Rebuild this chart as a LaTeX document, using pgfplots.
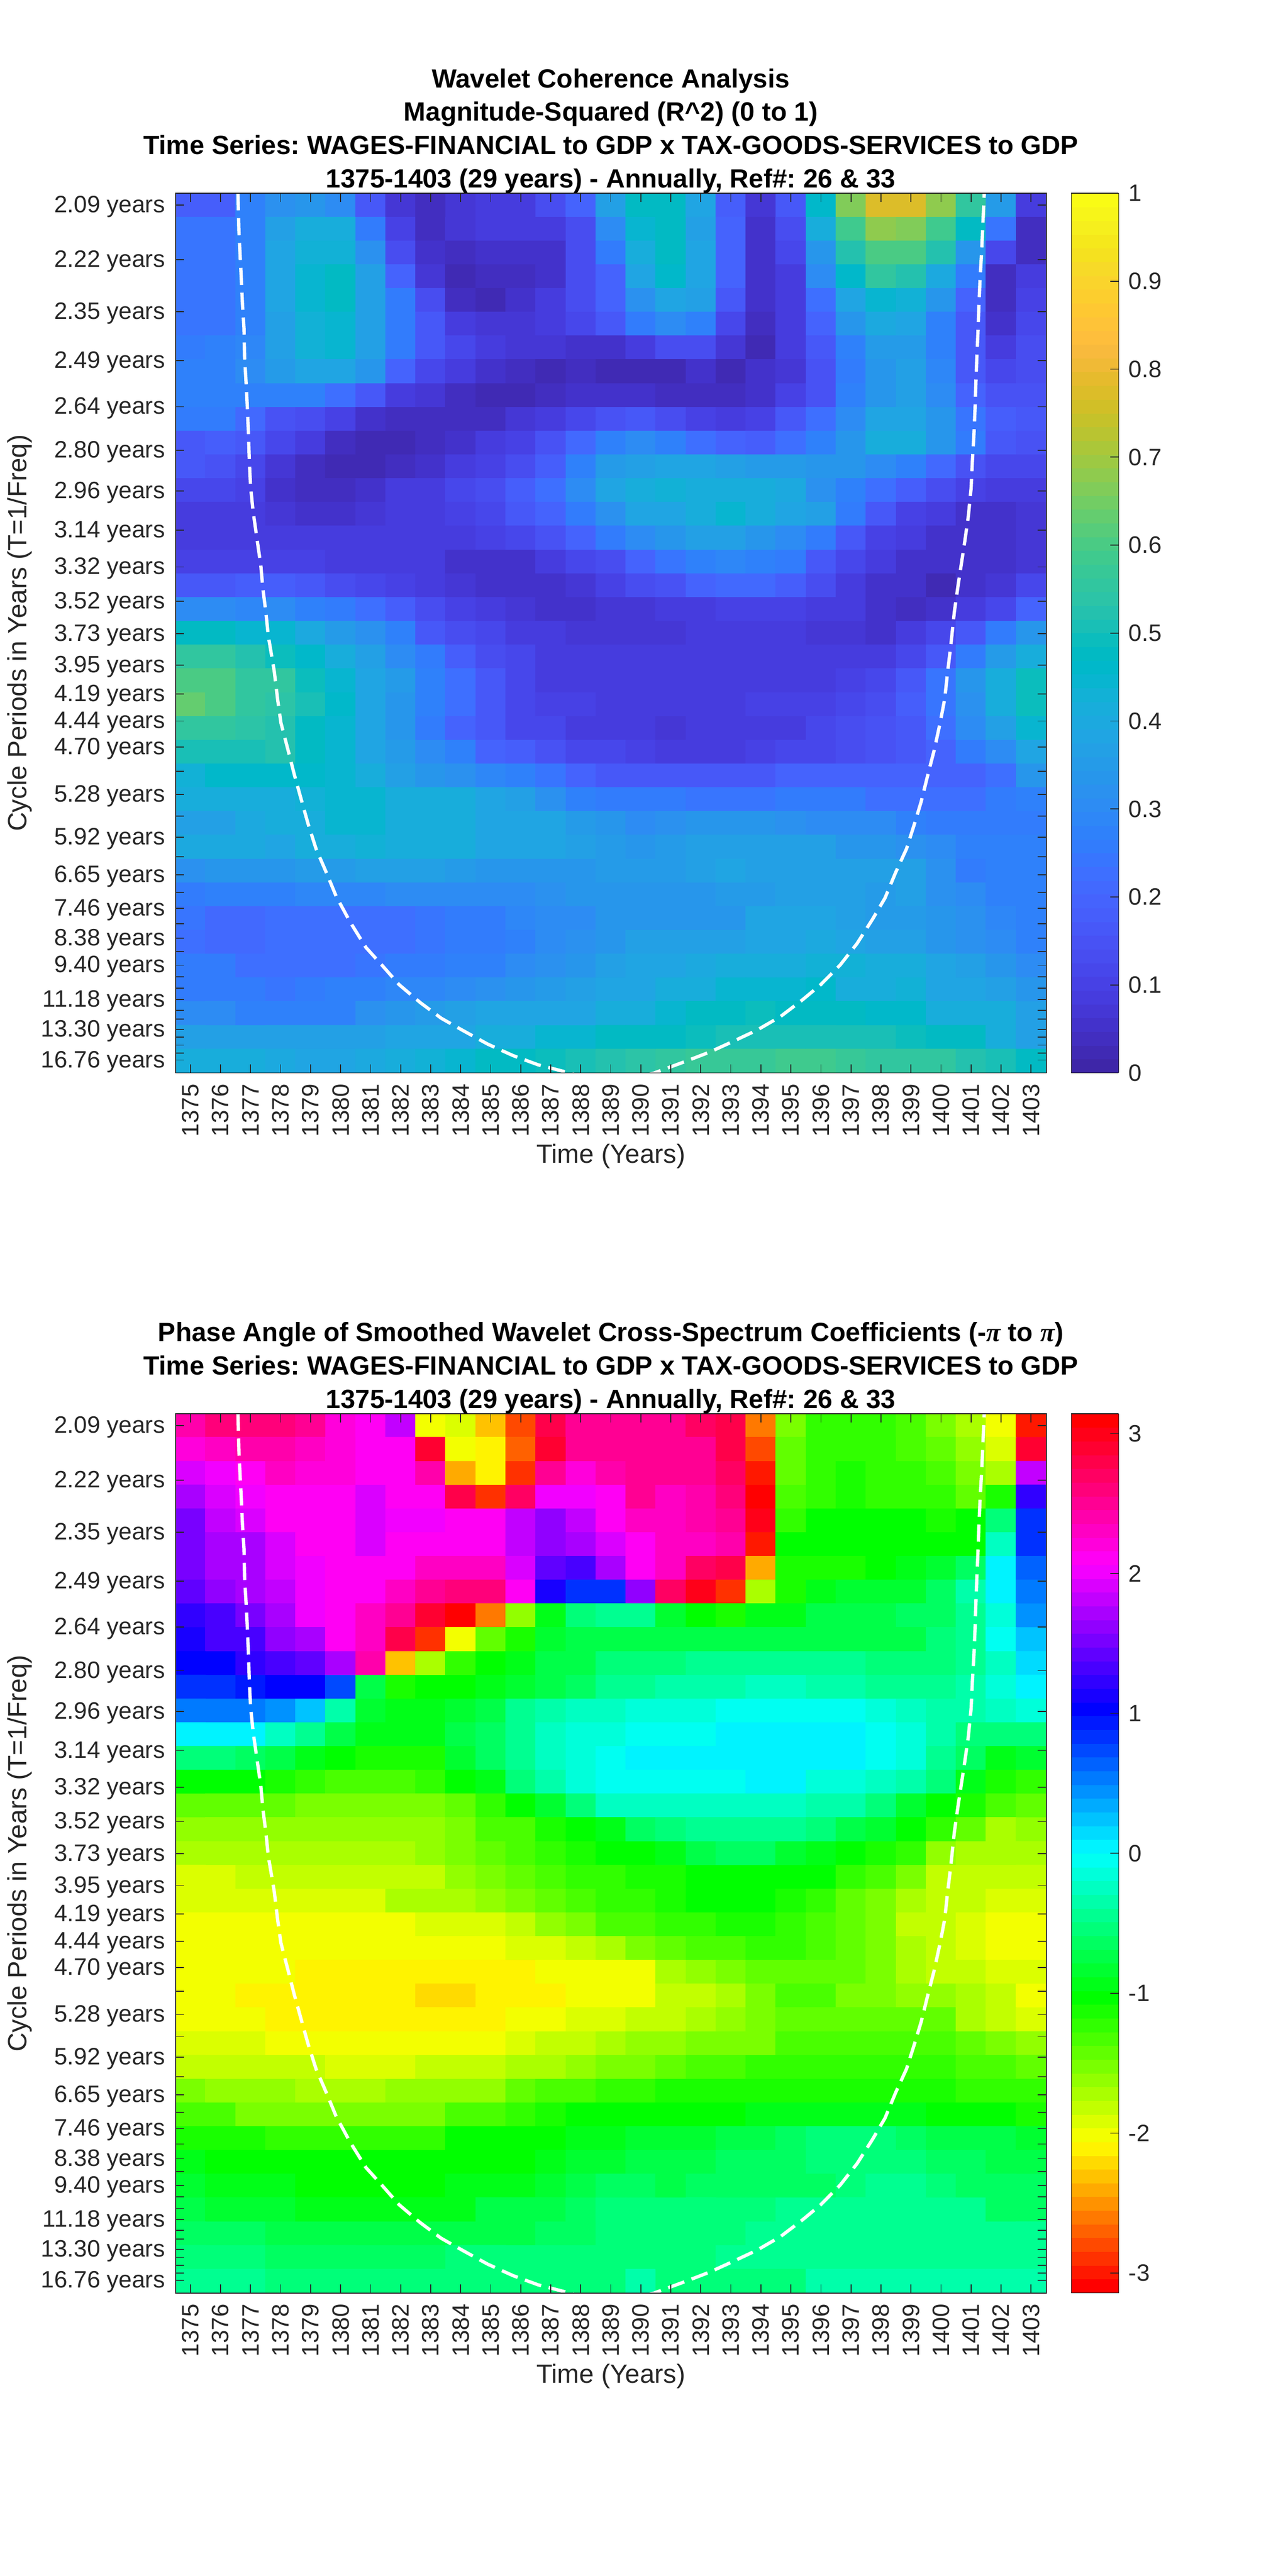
\documentclass[border=0pt]{standalone}
\usepackage{pgfplots}
\usepackage{pgfplotstable}
\usepackage{fontspec}
\pgfplotsset{compat=1.18}
\setmainfont{Liberation Sans}
\newfontfamily\piserif{Liberation Serif}
\frenchspacing
\definecolor{tg}{RGB}{38,38,38}
\pgfplotsset{
colormap={parula}{
rgb=(.2422,.1504,.6603) rgb=(.2504,.1650,.7076) rgb=(.2578,.1818,.7511) rgb=(.2647,.1978,.7952)
rgb=(.2706,.2147,.8364) rgb=(.2751,.2342,.8710) rgb=(.2783,.2559,.8991) rgb=(.2803,.2782,.9221)
rgb=(.2813,.3006,.9414) rgb=(.2810,.3228,.9579) rgb=(.2795,.3447,.9717) rgb=(.2760,.3667,.9829)
rgb=(.2699,.3892,.9906) rgb=(.2602,.4123,.9952) rgb=(.2440,.4358,.9988) rgb=(.2206,.4603,.9973)
rgb=(.1963,.4847,.9892) rgb=(.1834,.5074,.9798) rgb=(.1786,.5289,.9682) rgb=(.1764,.5499,.9520)
rgb=(.1687,.5703,.9359) rgb=(.1540,.5902,.9218) rgb=(.1460,.6091,.9079) rgb=(.1380,.6276,.8973)
rgb=(.1248,.6459,.8883) rgb=(.1113,.6635,.8763) rgb=(.0952,.6798,.8598) rgb=(.0689,.6948,.8394)
rgb=(.0297,.7082,.8163) rgb=(.0036,.7203,.7917) rgb=(.0067,.7312,.7660) rgb=(.0433,.7411,.7394)
rgb=(.0964,.7500,.7120) rgb=(.1408,.7584,.6842) rgb=(.1717,.7670,.6554) rgb=(.1938,.7758,.6251)
rgb=(.2161,.7843,.5923) rgb=(.2470,.7918,.5567) rgb=(.2906,.7973,.5188) rgb=(.3406,.8008,.4789)
rgb=(.3909,.8029,.4354) rgb=(.4456,.8024,.3909) rgb=(.5044,.7993,.3480) rgb=(.5616,.7942,.3045)
rgb=(.6174,.7876,.2612) rgb=(.6720,.7793,.2227) rgb=(.7242,.7698,.1910) rgb=(.7738,.7598,.1646)
rgb=(.8203,.7498,.1535) rgb=(.8634,.7406,.1596) rgb=(.9035,.7330,.1774) rgb=(.9393,.7288,.2100)
rgb=(.9728,.7298,.2394) rgb=(.9956,.7434,.2371) rgb=(.9970,.7659,.2199) rgb=(.9952,.7861,.1967)
rgb=(.9892,.8086,.1816) rgb=(.9786,.8318,.1717) rgb=(.9676,.8565,.1555) rgb=(.9610,.8820,.1209)
rgb=(.9597,.9106,.1067) rgb=(.9628,.9373,.1124) rgb=(.9691,.9606,.1000) rgb=(.9769,.9839,.0805)},
colormap={hsvbase}{rgb255=(255,0,0) rgb255=(255,255,0) rgb255=(0,255,0) rgb255=(0,255,255) rgb255=(0,0,255) rgb255=(255,0,255) rgb255=(255,0,0)},
colormap={hsvsix}{samples of colormap=(64 of hsvbase)},
}
\pgfplotstableread[row sep=\\,header=false]{
0.18\\0.18\\0.27\\0.32\\0.33\\0.30\\0.17\\0.07\\0.04\\0.07\\0.09\\0.09\\0.14\\0.20\\0.37\\0.47\\0.48\\0.38\\0.18\\0.07\\0.16\\0.46\\0.66\\0.78\\0.78\\0.68\\0.55\\0.35\\0.09\\
0.24\\0.24\\0.28\\0.36\\0.42\\0.42\\0.25\\0.10\\0.04\\0.07\\0.09\\0.08\\0.08\\0.13\\0.30\\0.44\\0.47\\0.37\\0.19\\0.06\\0.13\\0.41\\0.58\\0.68\\0.67\\0.58\\0.47\\0.24\\0.04\\
0.24\\0.24\\0.28\\0.38\\0.43\\0.43\\0.32\\0.14\\0.05\\0.04\\0.05\\0.05\\0.05\\0.13\\0.26\\0.42\\0.47\\0.38\\0.19\\0.05\\0.12\\0.33\\0.52\\0.60\\0.60\\0.52\\0.34\\0.11\\0.04\\
0.24\\0.24\\0.28\\0.38\\0.45\\0.47\\0.37\\0.20\\0.07\\0.03\\0.04\\0.04\\0.06\\0.13\\0.20\\0.38\\0.46\\0.39\\0.20\\0.05\\0.09\\0.30\\0.46\\0.55\\0.53\\0.40\\0.25\\0.04\\0.09\\
0.24\\0.24\\0.28\\0.38\\0.45\\0.47\\0.37\\0.26\\0.13\\0.04\\0.03\\0.05\\0.08\\0.13\\0.20\\0.32\\0.38\\0.37\\0.17\\0.05\\0.08\\0.23\\0.38\\0.45\\0.43\\0.33\\0.19\\0.04\\0.10\\
0.24\\0.24\\0.28\\0.36\\0.43\\0.45\\0.37\\0.26\\0.17\\0.09\\0.07\\0.07\\0.09\\0.12\\0.16\\0.25\\0.30\\0.27\\0.12\\0.04\\0.08\\0.19\\0.34\\0.40\\0.38\\0.27\\0.17\\0.06\\0.12\\
0.26\\0.27\\0.29\\0.37\\0.43\\0.44\\0.36\\0.25\\0.17\\0.12\\0.08\\0.07\\0.07\\0.06\\0.06\\0.09\\0.13\\0.13\\0.07\\0.03\\0.08\\0.17\\0.28\\0.35\\0.35\\0.27\\0.16\\0.08\\0.14\\
0.27\\0.27\\0.30\\0.35\\0.39\\0.39\\0.33\\0.19\\0.12\\0.09\\0.05\\0.04\\0.03\\0.04\\0.03\\0.03\\0.03\\0.05\\0.03\\0.05\\0.07\\0.15\\0.26\\0.33\\0.36\\0.29\\0.16\\0.11\\0.14\\
0.27\\0.27\\0.28\\0.28\\0.28\\0.22\\0.17\\0.09\\0.07\\0.04\\0.03\\0.03\\0.04\\0.06\\0.05\\0.05\\0.04\\0.04\\0.04\\0.05\\0.10\\0.15\\0.27\\0.34\\0.36\\0.30\\0.19\\0.15\\0.15\\
0.26\\0.25\\0.21\\0.15\\0.13\\0.10\\0.06\\0.04\\0.04\\0.04\\0.04\\0.07\\0.09\\0.12\\0.15\\0.17\\0.13\\0.10\\0.09\\0.10\\0.16\\0.22\\0.30\\0.38\\0.39\\0.33\\0.24\\0.18\\0.17\\
0.16\\0.18\\0.17\\0.12\\0.08\\0.04\\0.03\\0.03\\0.04\\0.06\\0.08\\0.10\\0.15\\0.21\\0.28\\0.30\\0.27\\0.23\\0.20\\0.18\\0.23\\0.28\\0.34\\0.41\\0.42\\0.33\\0.26\\0.16\\0.15\\
0.17\\0.15\\0.12\\0.07\\0.04\\0.03\\0.03\\0.04\\0.05\\0.08\\0.10\\0.13\\0.18\\0.28\\0.35\\0.37\\0.39\\0.39\\0.36\\0.35\\0.35\\0.34\\0.33\\0.30\\0.27\\0.21\\0.15\\0.12\\0.11\\
0.11\\0.11\\0.10\\0.05\\0.04\\0.04\\0.05\\0.08\\0.09\\0.11\\0.14\\0.18\\0.22\\0.30\\0.38\\0.41\\0.43\\0.42\\0.42\\0.41\\0.40\\0.32\\0.27\\0.22\\0.18\\0.14\\0.10\\0.09\\0.09\\
0.09\\0.09\\0.08\\0.07\\0.05\\0.06\\0.07\\0.08\\0.09\\0.10\\0.12\\0.17\\0.20\\0.25\\0.32\\0.38\\0.38\\0.42\\0.44\\0.41\\0.38\\0.36\\0.25\\0.17\\0.10\\0.08\\0.06\\0.05\\0.07\\
0.08\\0.08\\0.08\\0.08\\0.08\\0.09\\0.09\\0.08\\0.09\\0.09\\0.10\\0.12\\0.15\\0.19\\0.25\\0.31\\0.33\\0.36\\0.36\\0.33\\0.30\\0.26\\0.17\\0.10\\0.08\\0.05\\0.05\\0.05\\0.07\\
0.10\\0.10\\0.10\\0.10\\0.10\\0.08\\0.08\\0.08\\0.08\\0.06\\0.06\\0.06\\0.09\\0.11\\0.14\\0.19\\0.24\\0.28\\0.29\\0.28\\0.26\\0.17\\0.11\\0.08\\0.05\\0.05\\0.06\\0.06\\0.07\\
0.16\\0.16\\0.18\\0.18\\0.17\\0.13\\0.12\\0.10\\0.08\\0.07\\0.05\\0.05\\0.05\\0.07\\0.10\\0.13\\0.15\\0.19\\0.21\\0.21\\0.18\\0.13\\0.09\\0.06\\0.05\\0.03\\0.06\\0.07\\0.12\\
0.30\\0.30\\0.29\\0.30\\0.28\\0.25\\0.22\\0.18\\0.13\\0.10\\0.08\\0.07\\0.06\\0.06\\0.07\\0.07\\0.08\\0.09\\0.10\\0.10\\0.10\\0.08\\0.08\\0.06\\0.04\\0.06\\0.09\\0.12\\0.19\\
0.48\\0.47\\0.45\\0.45\\0.40\\0.35\\0.32\\0.27\\0.17\\0.13\\0.11\\0.08\\0.08\\0.07\\0.07\\0.07\\0.07\\0.08\\0.08\\0.09\\0.09\\0.07\\0.07\\0.06\\0.09\\0.12\\0.17\\0.25\\0.33\\
0.55\\0.55\\0.53\\0.49\\0.46\\0.42\\0.36\\0.31\\0.25\\0.18\\0.14\\0.11\\0.08\\0.08\\0.08\\0.09\\0.08\\0.08\\0.08\\0.08\\0.08\\0.08\\0.08\\0.08\\0.11\\0.17\\0.26\\0.35\\0.42\\
0.60\\0.60\\0.56\\0.56\\0.49\\0.45\\0.38\\0.35\\0.28\\0.22\\0.16\\0.11\\0.09\\0.09\\0.08\\0.08\\0.08\\0.08\\0.08\\0.08\\0.09\\0.09\\0.10\\0.12\\0.17\\0.24\\0.33\\0.42\\0.49\\
0.64\\0.60\\0.56\\0.54\\0.50\\0.46\\0.38\\0.33\\0.27\\0.22\\0.17\\0.11\\0.10\\0.10\\0.08\\0.08\\0.08\\0.08\\0.08\\0.10\\0.10\\0.10\\0.12\\0.14\\0.18\\0.24\\0.32\\0.41\\0.49\\
0.55\\0.55\\0.54\\0.53\\0.48\\0.45\\0.38\\0.33\\0.25\\0.20\\0.16\\0.12\\0.11\\0.08\\0.08\\0.08\\0.07\\0.08\\0.08\\0.09\\0.09\\0.12\\0.13\\0.15\\0.17\\0.22\\0.31\\0.36\\0.45\\
0.50\\0.51\\0.50\\0.52\\0.48\\0.45\\0.39\\0.35\\0.30\\0.27\\0.20\\0.18\\0.15\\0.12\\0.12\\0.10\\0.09\\0.09\\0.09\\0.10\\0.12\\0.12\\0.13\\0.15\\0.16\\0.20\\0.25\\0.30\\0.38\\
0.43\\0.46\\0.46\\0.46\\0.46\\0.44\\0.41\\0.37\\0.33\\0.32\\0.29\\0.27\\0.24\\0.20\\0.17\\0.16\\0.17\\0.17\\0.17\\0.17\\0.19\\0.19\\0.19\\0.19\\0.20\\0.20\\0.20\\0.23\\0.33\\
0.41\\0.42\\0.42\\0.42\\0.43\\0.44\\0.44\\0.42\\0.42\\0.41\\0.38\\0.36\\0.32\\0.28\\0.26\\0.25\\0.25\\0.24\\0.24\\0.24\\0.25\\0.25\\0.25\\0.23\\0.23\\0.23\\0.23\\0.25\\0.27\\
0.37\\0.36\\0.40\\0.41\\0.41\\0.44\\0.44\\0.42\\0.42\\0.41\\0.39\\0.38\\0.38\\0.35\\0.33\\0.30\\0.32\\0.33\\0.33\\0.33\\0.32\\0.30\\0.30\\0.30\\0.27\\0.26\\0.25\\0.25\\0.26\\
0.40\\0.40\\0.40\\0.39\\0.41\\0.42\\0.43\\0.42\\0.41\\0.41\\0.39\\0.38\\0.38\\0.36\\0.35\\0.33\\0.35\\0.37\\0.37\\0.37\\0.37\\0.37\\0.34\\0.33\\0.32\\0.30\\0.27\\0.27\\0.27\\
0.32\\0.33\\0.33\\0.34\\0.35\\0.35\\0.36\\0.36\\0.36\\0.35\\0.33\\0.33\\0.34\\0.34\\0.35\\0.35\\0.35\\0.37\\0.38\\0.37\\0.37\\0.37\\0.37\\0.36\\0.36\\0.32\\0.26\\0.27\\0.27\\
0.26\\0.27\\0.27\\0.28\\0.29\\0.29\\0.29\\0.30\\0.30\\0.30\\0.30\\0.30\\0.32\\0.33\\0.34\\0.34\\0.33\\0.33\\0.35\\0.35\\0.36\\0.36\\0.36\\0.35\\0.36\\0.32\\0.31\\0.28\\0.27\\
0.24\\0.21\\0.21\\0.22\\0.22\\0.23\\0.23\\0.23\\0.24\\0.25\\0.25\\0.29\\0.30\\0.31\\0.33\\0.34\\0.34\\0.34\\0.34\\0.38\\0.38\\0.38\\0.37\\0.35\\0.35\\0.33\\0.32\\0.29\\0.27\\
0.22\\0.21\\0.21\\0.22\\0.22\\0.23\\0.23\\0.23\\0.24\\0.25\\0.26\\0.28\\0.30\\0.32\\0.34\\0.36\\0.36\\0.37\\0.37\\0.39\\0.39\\0.40\\0.39\\0.37\\0.37\\0.33\\0.32\\0.30\\0.27\\
0.25\\0.25\\0.22\\0.22\\0.22\\0.22\\0.24\\0.25\\0.26\\0.28\\0.27\\0.30\\0.32\\0.34\\0.36\\0.38\\0.38\\0.40\\0.42\\0.42\\0.42\\0.43\\0.43\\0.42\\0.41\\0.39\\0.37\\0.33\\0.30\\
0.26\\0.26\\0.25\\0.24\\0.25\\0.27\\0.27\\0.29\\0.29\\0.31\\0.32\\0.33\\0.35\\0.36\\0.38\\0.39\\0.41\\0.41\\0.44\\0.44\\0.44\\0.46\\0.42\\0.42\\0.43\\0.39\\0.39\\0.36\\0.33\\
0.30\\0.30\\0.28\\0.28\\0.28\\0.28\\0.32\\0.33\\0.35\\0.36\\0.38\\0.38\\0.38\\0.39\\0.41\\0.42\\0.44\\0.47\\0.47\\0.49\\0.47\\0.47\\0.48\\0.46\\0.46\\0.42\\0.42\\0.41\\0.36\\
0.36\\0.36\\0.36\\0.36\\0.37\\0.37\\0.37\\0.38\\0.38\\0.38\\0.41\\0.42\\0.44\\0.45\\0.47\\0.48\\0.48\\0.49\\0.50\\0.50\\0.51\\0.51\\0.51\\0.51\\0.49\\0.48\\0.47\\0.42\\0.37\\
0.41\\0.41\\0.41\\0.40\\0.39\\0.39\\0.40\\0.42\\0.43\\0.45\\0.47\\0.48\\0.49\\0.50\\0.52\\0.54\\0.56\\0.57\\0.57\\0.57\\0.58\\0.58\\0.57\\0.56\\0.55\\0.55\\0.53\\0.50\\0.47\\
}\tabA
\pgfplotstableread[row sep=\\,header=false]{
2.4\\2.6\\2.6\\2.6\\2.55\\2.25\\2.1\\1.85\\-2.03\\-1.87\\-2.3\\-2.8\\2.75\\2.5\\2.5\\2.55\\2.55\\2.65\\2.75\\-2.6\\-1.55\\-1.25\\-1.25\\-1.25\\-1.3\\-1.55\\-1.7\\-1.97\\-2.95\\
2.2\\2.3\\2.4\\2.4\\2.3\\2.2\\2.1\\2.1\\2.85\\-2.01\\-2.13\\-2.7\\2.85\\2.55\\2.5\\2.5\\2.5\\2.55\\2.8\\-2.75\\-1.45\\-1.25\\-1.25\\-1.25\\-1.3\\-1.45\\-1.65\\-1.95\\2.85\\
1.9\\2.05\\2.1\\2.35\\2.2\\2.2\\2.15\\2.15\\2.4\\-2.4\\-2.12\\-2.85\\2.55\\2.25\\2.45\\2.5\\2.55\\2.55\\2.7\\-3.0\\-1.45\\-1.25\\-1.15\\-1.25\\-1.25\\-1.35\\-1.5\\-1.75\\1.85\\
1.75\\1.9\\2.05\\2.1\\2.1\\2.1\\1.95\\2.1\\2.1\\2.8\\-2.85\\2.65\\2.0\\2.05\\2.1\\2.5\\2.35\\2.4\\2.6\\3.14\\-1.35\\-1.2\\-1.1\\-1.2\\-1.2\\-1.25\\-1.4\\-1.15\\1.2\\
1.55\\1.8\\1.9\\2.1\\2.1\\2.1\\1.95\\2.0\\2.0\\2.1\\2.1\\1.85\\1.6\\1.8\\2.1\\2.35\\2.35\\2.45\\2.5\\3.0\\-1.25\\-1.05\\-1.05\\-1.05\\-1.05\\-1.15\\-1.05\\-0.55\\0.85\\
1.5\\1.7\\1.75\\1.95\\2.1\\2.1\\1.9\\2.1\\2.1\\2.15\\2.15\\1.85\\1.6\\1.7\\1.95\\2.1\\2.3\\2.35\\2.45\\-3.0\\-1.05\\-1.05\\-1.05\\-1.05\\-1.05\\-1.05\\-1.0\\-0.25\\0.8\\
1.5\\1.75\\1.75\\1.95\\2.0\\2.15\\2.15\\2.15\\2.3\\2.35\\2.35\\1.9\\1.45\\1.35\\1.75\\2.1\\2.35\\2.65\\2.8\\-2.45\\-1.15\\-1.1\\-1.1\\-1.0\\-0.95\\-0.8\\-0.6\\0\\0.6\\
1.4\\1.6\\1.7\\1.85\\2.0\\2.1\\2.15\\2.3\\2.5\\2.6\\2.6\\2.15\\1.15\\0.8\\0.8\\1.65\\2.7\\2.95\\-2.85\\-1.75\\-1.1\\-0.95\\-0.8\\-0.8\\-0.85\\-0.65\\-0.3\\0\\0.5\\
1.2\\1.35\\1.55\\1.75\\2.0\\2.1\\2.35\\2.5\\2.85\\3.14\\-2.6\\-1.6\\-0.95\\-0.55\\-0.45\\-0.45\\-0.85\\-1.0\\-1.1\\-0.95\\-0.9\\-0.75\\-0.75\\-0.75\\-0.65\\-0.6\\-0.4\\-0.1\\0.4\\
1.1\\1.3\\1.35\\1.6\\1.75\\2.1\\2.35\\2.8\\-2.85\\-2.03\\-1.4\\-1.15\\-0.85\\-0.7\\-0.75\\-0.7\\-0.7\\-0.7\\-0.7\\-0.7\\-0.7\\-0.7\\-0.7\\-0.7\\-0.7\\-0.55\\-0.45\\-0.05\\0.25\\
1.0\\1.0\\1.2\\1.3\\1.45\\1.7\\2.4\\-2.3\\-1.75\\-1.25\\-1.05\\-0.95\\-0.75\\-0.7\\-0.55\\-0.55\\-0.55\\-0.45\\-0.45\\-0.45\\-0.45\\-0.45\\-0.45\\-0.5\\-0.5\\-0.5\\-0.4\\-0.2\\0.12\\
0.8\\0.85\\0.95\\1.05\\1.05\\0.75\\-0.75\\-1.15\\-1.05\\-1.05\\-0.9\\-0.8\\-0.7\\-0.6\\-0.45\\-0.45\\-0.3\\-0.3\\-0.3\\-0.2\\-0.2\\-0.35\\-0.35\\-0.4\\-0.4\\-0.4\\-0.35\\-0.15\\0\\
0.55\\0.55\\0.55\\0.45\\0.2\\-0.3\\-0.8\\-0.95\\-0.95\\-0.8\\-0.7\\-0.4\\-0.3\\-0.2\\-0.25\\-0.15\\-0.15\\-0.15\\-0.05\\-0.05\\-0.05\\-0.05\\-0.05\\-0.1\\-0.25\\-0.35\\-0.35\\-0.25\\-0.15\\
0\\0\\0\\-0.2\\-0.45\\-0.75\\-0.95\\-0.95\\-0.9\\-0.75\\-0.65\\-0.4\\-0.25\\-0.15\\-0.15\\-0.05\\-0.05\\-0.05\\0\\0\\0\\0\\0\\-0.05\\-0.15\\-0.3\\-0.5\\-0.5\\-0.5\\
-0.55\\-0.55\\-0.65\\-0.7\\-0.9\\-1.05\\-1.1\\-1.1\\-1.1\\-0.8\\-0.6\\-0.4\\-0.25\\-0.15\\-0.05\\0\\0\\0\\0\\0\\0\\0\\0\\-0.05\\-0.15\\-0.4\\-0.65\\-0.9\\-0.85\\
-1.05\\-1.05\\-1.05\\-1.15\\-1.25\\-1.3\\-1.3\\-1.3\\-1.2\\-1.05\\-0.95\\-0.55\\-0.3\\-0.15\\-0.05\\-0.02\\-0.05\\-0.05\\-0.05\\0\\0\\-0.1\\-0.1\\-0.25\\-0.35\\-0.55\\-0.95\\-1.1\\-1.2\\
-1.45\\-1.45\\-1.45\\-1.45\\-1.55\\-1.55\\-1.55\\-1.55\\-1.55\\-1.4\\-1.2\\-1.05\\-0.85\\-0.55\\-0.25\\-0.2\\-0.25\\-0.2\\-0.2\\-0.2\\-0.2\\-0.3\\-0.3\\-0.5\\-0.85\\-1.05\\-1.15\\-1.3\\-1.45\\
-1.65\\-1.65\\-1.65\\-1.65\\-1.65\\-1.65\\-1.65\\-1.65\\-1.6\\-1.5\\-1.35\\-1.3\\-1.15\\-1.05\\-0.9\\-0.65\\-0.55\\-0.4\\-0.4\\-0.4\\-0.4\\-0.5\\-0.7\\-0.8\\-1.05\\-1.2\\-1.4\\-1.7\\-1.65\\
-1.75\\-1.75\\-1.75\\-1.75\\-1.75\\-1.75\\-1.75\\-1.75\\-1.6\\-1.55\\-1.45\\-1.3\\-1.2\\-1.15\\-1.05\\-1.05\\-0.95\\-0.75\\-0.6\\-0.6\\-0.8\\-0.95\\-1.0\\-1.1\\-1.25\\-1.6\\-1.7\\-1.75\\-1.75\\
-1.9\\-1.9\\-1.8\\-1.8\\-1.8\\-1.8\\-1.8\\-1.8\\-1.8\\-1.6\\-1.55\\-1.45\\-1.35\\-1.25\\-1.2\\-1.15\\-1.1\\-1.0\\-1.0\\-1.0\\-1.0\\-1.0\\-1.2\\-1.3\\-1.55\\-1.8\\-1.85\\-1.85\\-1.85\\
-1.9\\-1.9\\-1.9\\-1.9\\-1.9\\-1.9\\-1.9\\-1.75\\-1.75\\-1.75\\-1.6\\-1.55\\-1.45\\-1.35\\-1.25\\-1.25\\-1.1\\-1.05\\-1.05\\-1.05\\-1.1\\-1.2\\-1.4\\-1.55\\-1.7\\-1.8\\-1.85\\-1.93\\-1.93\\
-1.97\\-1.97\\-1.97\\-1.97\\-1.97\\-1.97\\-1.97\\-1.97\\-1.9\\-1.9\\-1.9\\-1.8\\-1.65\\-1.5\\-1.35\\-1.3\\-1.25\\-1.25\\-1.15\\-1.15\\-1.2\\-1.3\\-1.4\\-1.55\\-1.8\\-1.85\\-1.9\\-1.97\\-1.97\\
-2.01\\-2.01\\-2.01\\-2.01\\-2.01\\-2.01\\-2.01\\-2.01\\-2.01\\-2.01\\-2.01\\-1.93\\-1.93\\-1.8\\-1.75\\-1.5\\-1.45\\-1.35\\-1.3\\-1.2\\-1.2\\-1.3\\-1.45\\-1.55\\-1.75\\-1.85\\-1.9\\-1.97\\-1.97\\
-2.01\\-2.01\\-2.01\\-2.01\\-2.12\\-2.12\\-2.12\\-2.12\\-2.12\\-2.12\\-2.12\\-2.12\\-2.01\\-2.01\\-1.97\\-1.97\\-1.7\\-1.6\\-1.5\\-1.4\\-1.4\\-1.4\\-1.45\\-1.55\\-1.7\\-1.8\\-1.85\\-1.93\\-1.93\\
-2.01\\-2.01\\-2.12\\-2.12\\-2.12\\-2.12\\-2.12\\-2.12\\-2.22\\-2.22\\-2.12\\-2.12\\-2.12\\-2.01\\-1.97\\-1.97\\-1.85\\-1.8\\-1.7\\-1.55\\-1.35\\-1.35\\-1.5\\-1.5\\-1.6\\-1.65\\-1.7\\-1.85\\-1.97\\
-2.01\\-2.01\\-2.01\\-2.12\\-2.12\\-2.12\\-2.12\\-2.12\\-2.12\\-2.12\\-2.12\\-2.03\\-2.01\\-1.93\\-1.9\\-1.85\\-1.8\\-1.75\\-1.6\\-1.5\\-1.4\\-1.4\\-1.4\\-1.4\\-1.45\\-1.45\\-1.7\\-1.8\\-1.93\\
-1.93\\-1.93\\-1.93\\-2.03\\-2.03\\-2.03\\-2.03\\-2.03\\-2.03\\-2.03\\-1.97\\-1.93\\-1.85\\-1.8\\-1.7\\-1.65\\-1.6\\-1.55\\-1.5\\-1.5\\-1.35\\-1.3\\-1.3\\-1.3\\-1.35\\-1.35\\-1.4\\-1.55\\-1.65\\
-1.8\\-1.85\\-1.85\\-1.85\\-1.85\\-1.93\\-1.93\\-1.93\\-1.85\\-1.85\\-1.85\\-1.75\\-1.75\\-1.65\\-1.55\\-1.5\\-1.4\\-1.35\\-1.35\\-1.25\\-1.2\\-1.2\\-1.2\\-1.2\\-1.25\\-1.2\\-1.3\\-1.35\\-1.45\\
-1.5\\-1.65\\-1.65\\-1.65\\-1.75\\-1.75\\-1.75\\-1.65\\-1.65\\-1.65\\-1.65\\-1.45\\-1.35\\-1.3\\-1.25\\-1.2\\-1.15\\-1.1\\-1.1\\-1.1\\-1.1\\-1.1\\-1.1\\-1.1\\-1.15\\-1.15\\-1.2\\-1.2\\-1.25\\
-1.3\\-1.35\\-1.5\\-1.5\\-1.5\\-1.5\\-1.5\\-1.5\\-1.5\\-1.35\\-1.3\\-1.2\\-1.1\\-1.05\\-1.05\\-1.05\\-1.05\\-1.05\\-1.05\\-0.95\\-0.9\\-0.9\\-0.9\\-0.9\\-0.95\\-1.0\\-1.0\\-1.05\\-1.1\\
-1.1\\-1.1\\-1.1\\-1.2\\-1.2\\-1.2\\-1.2\\-1.2\\-1.2\\-1.05\\-1.05\\-1.05\\-1.05\\-0.95\\-0.9\\-0.85\\-0.85\\-0.8\\-0.7\\-0.7\\-0.6\\-0.55\\-0.55\\-0.55\\-0.65\\-0.7\\-0.7\\-0.75\\-0.8\\
-0.95\\-1.0\\-1.0\\-1.05\\-1.05\\-1.05\\-1.05\\-1.05\\-1.05\\-1.0\\-1.0\\-1.0\\-0.95\\-0.85\\-0.8\\-0.7\\-0.75\\-0.75\\-0.6\\-0.6\\-0.6\\-0.55\\-0.55\\-0.55\\-0.55\\-0.6\\-0.6\\-0.7\\-0.7\\
-0.85\\-0.95\\-0.95\\-0.95\\-1.02\\-1.02\\-1.02\\-1.02\\-1.02\\-0.9\\-0.9\\-0.9\\-0.8\\-0.75\\-0.6\\-0.6\\-0.7\\-0.6\\-0.6\\-0.6\\-0.6\\-0.6\\-0.5\\-0.45\\-0.45\\-0.55\\-0.6\\-0.6\\-0.65\\
-0.7\\-0.8\\-0.8\\-0.8\\-0.9\\-0.9\\-0.9\\-0.9\\-0.9\\-0.9\\-0.7\\-0.7\\-0.7\\-0.6\\-0.55\\-0.55\\-0.5\\-0.5\\-0.5\\-0.5\\-0.4\\-0.4\\-0.4\\-0.4\\-0.4\\-0.4\\-0.4\\-0.6\\-0.6\\
-0.65\\-0.65\\-0.65\\-0.72\\-0.72\\-0.72\\-0.72\\-0.72\\-0.72\\-0.72\\-0.72\\-0.72\\-0.6\\-0.6\\-0.55\\-0.5\\-0.5\\-0.5\\-0.5\\-0.4\\-0.4\\-0.4\\-0.4\\-0.4\\-0.4\\-0.4\\-0.4\\-0.42\\-0.42\\
-0.55\\-0.55\\-0.55\\-0.62\\-0.62\\-0.62\\-0.62\\-0.62\\-0.62\\-0.58\\-0.58\\-0.58\\-0.58\\-0.58\\-0.5\\-0.5\\-0.5\\-0.5\\-0.45\\-0.45\\-0.4\\-0.4\\-0.4\\-0.4\\-0.4\\-0.4\\-0.4\\-0.4\\-0.4\\
-0.4\\-0.4\\-0.4\\-0.55\\-0.55\\-0.55\\-0.55\\-0.55\\-0.55\\-0.55\\-0.55\\-0.55\\-0.55\\-0.55\\-0.55\\-0.35\\-0.5\\-0.5\\-0.5\\-0.5\\-0.5\\-0.32\\-0.32\\-0.32\\-0.32\\-0.32\\-0.32\\-0.32\\-0.32\\
}\tabB
\pgfplotstablecreatecol[expr={0}]{d}\tabA
\pgfplotstablecreatecol[expr={0}]{d}\tabB
\pgfplotstableread{
1376.58 -0.5
1376.61 1.06
1376.65 2.07
1376.69 3.07
1376.73 4.16
1376.78 5.17
1376.80 6.38
1376.85 7.46
1376.89 8.46
1376.93 9.62
1376.96 10.83
1377.00 11.84
1377.08 12.84
1377.20 13.92
1377.34 15.15
1377.41 16.14
1377.51 17.13
1377.59 18.12
1377.68 18.79
1377.79 19.62
1377.90 20.78
1378.01 21.77
1378.25 22.93
1378.45 23.92
1378.67 24.92
1378.91 26.0
1379.18 27.07
1379.55 28.15
1379.85 29.07
1380.31 30.14
1380.84 31.22
1381.37 31.96
1381.95 32.79
1382.65 33.54
1383.35 34.2
1384.05 34.7
1384.90 35.29
1385.74 35.77
1386.58 36.16
1387.59 36.49
1389.00 37.0
1390.45 36.5
1391.52 36.0
1392.30 35.62
1393.08 35.17
1393.87 34.7
1394.65 34.13
1395.36 33.45
1395.99 32.79
1396.64 31.96
1397.20 31.06
1397.71 30.05
1398.13 29.15
1398.49 28.06
1398.85 27.07
1399.12 26.0
1399.34 25.08
1399.55 24.01
1399.77 22.93
1399.97 21.77
1400.12 20.78
1400.22 19.62
1400.33 18.46
1400.44 17.13
1400.55 16.14
1400.66 15.22
1400.79 14.14
1400.91 13.07
1401.00 11.91
1401.04 10.83
1401.09 9.76
1401.13 8.62
1401.16 7.46
1401.19 6.45
1401.23 5.31
1401.26 4.23
1401.30 3.07
1401.35 2.0
1401.39 0.85
1401.44 -0.5
}\coi
\pgfplotsset{
 every axis title shift=0pt,
 heat/.style={
  scale only axis, width=528.25pt, anchor=south west,
  xmin=1374.5, xmax=1403.5, ymin=-0.5, ymax=36.5, y dir=reverse,
  axis on top, colormap access=piecewise constant,
  tick align=inside, major tick length=5.2pt,
  tick style={color=tg,line width=0.55pt},
  axis line style={color=tg,line width=0.6pt},
  xtick={1375,...,1403},
  xticklabels={1375,1376,1377,1378,1379,1380,1381,1382,1383,1384,1385,1386,1387,1388,1389,1390,1391,1392,1393,1394,1395,1396,1397,1398,1399,1400,1401,1402,1403},
  ytick={0.00,2.30,4.49,6.54,8.48,10.31,12.03,13.67,15.22,16.66,18.02,19.35,20.56,21.70,22.80,23.81,24.79,25.70,26.58,27.41,28.17,28.90,29.58,30.23,30.84,31.40,31.97,32.46,32.94,33.41,33.86,34.24,34.67,35.00,35.33,35.66,35.96},
  yticklabels={2.09 years,2.22 years,2.35 years,2.49 years,2.64 years,2.80 years,2.96 years,3.14 years,3.32 years,3.52 years,3.73 years,3.95 years,4.19 years,4.44 years,4.70 years,{},5.28 years,{},5.92 years,{},6.65 years,{},7.46 years,{},8.38 years,{},9.40 years,{},{},11.18 years,{},{},13.30 years,{},{},{},16.76 years},
  xticklabel style={rotate=90,anchor=east,inner sep=6.5pt,font=\fontsize{14.4}{16}\selectfont,text=tg},
  yticklabel style={anchor=east,inner sep=6.2pt,yshift=-1pt,font=\fontsize{14.4}{16}\selectfont,text=tg},
  xlabel={Time (Years)}, ylabel={Cycle Periods in Years (T=1/Freq)},
  x label style={at={(axis description cs:0.5,-0.0946)},anchor=center,inner sep=0pt,font=\fontsize{16}{18}\selectfont,text=tg},
  y label style={at={(axis description cs:-0.1789,0.5)},anchor=center,inner sep=0pt,font=\fontsize{16}{18}\selectfont,text=tg},
  title style={at={(axis description cs:0.5,1)},anchor=south,inner sep=0pt,yshift=-0.2pt,align=center,font=\fontsize{16}{20.25}\selectfont\bfseries,text=black},
  colorbar sampled,
  colorbar shift/.style={xshift=14.4pt},
 },
 cbar/.style={
  xshift=-18.6pt,
  width=28.75pt, samples=65,
  tick align=inside, major tick length=5pt,
  tick style={color=tg,line width=0.5pt},
  axis line style={color=tg,line width=0.5pt},
  ytick pos=right, yticklabel pos=right, xtick=\empty,
  yticklabel style={anchor=west,inner sep=5.9pt,font=\fontsize{14.4}{16}\selectfont,text=tg},
 },
}
\newcommand\heatmap[1]{\addplot[matrix plot*,mesh/cols=29,point meta=explicit,forget plot] table[x expr={1375+mod(\coordindex,29)},y expr={(\coordindex-mod(\coordindex,29))/29},meta index=0]{#1};}
\newcommand\coiline{\addplot[white,line width=2pt,dash pattern=on 10.4pt off 4.7pt,no marks,forget plot] table[x index=0,y index=1]{\coi};}
\begin{document}
\begin{tikzpicture}[x=1pt,y=1pt]
\useasboundingbox (0,0) rectangle (781.25,1563);
\begin{axis}[heat, at={(106.5pt,912pt)}, height=533.75pt,
  colormap name=parula, point meta min=0, point meta max=1,
  title={Wavelet Coherence Analysis\\Magnitude-Squared (R\^{}2) (0 to 1)\\Time Series: WAGES-FINANCIAL to GDP x TAX-GOODS-SERVICES to GDP\\1375-1403 (29 years) - Annually, Ref\#: 26 \& 33},
  colorbar style={cbar, ytick={0,0.1,...,1}, yticklabels={0,0.1,0.2,0.3,0.4,0.5,0.6,0.7,0.8,0.9,1}},
]
\heatmap{\tabA}
\coiline
\end{axis}
\begin{axis}[heat, at={(106.5pt,171.75pt)}, height=533.5pt,
  colormap name=hsvsix, point meta min=-3.14159, point meta max=3.14159,
  title={Phase Angle of Smoothed Wavelet Cross-Spectrum Coefficients (-{\piserif\itshape π} to {\piserif\itshape π})\\Time Series: WAGES-FINANCIAL to GDP x TAX-GOODS-SERVICES to GDP\\1375-1403 (29 years) - Annually, Ref\#: 26 \& 33},
  colorbar style={cbar, ytick={-3,-2,-1,0,1,2,3}, yticklabels={-3,-2,-1,0,1,2,3}},
]
\heatmap{\tabB}
\coiline
\end{axis}
\end{tikzpicture}
\end{document}
